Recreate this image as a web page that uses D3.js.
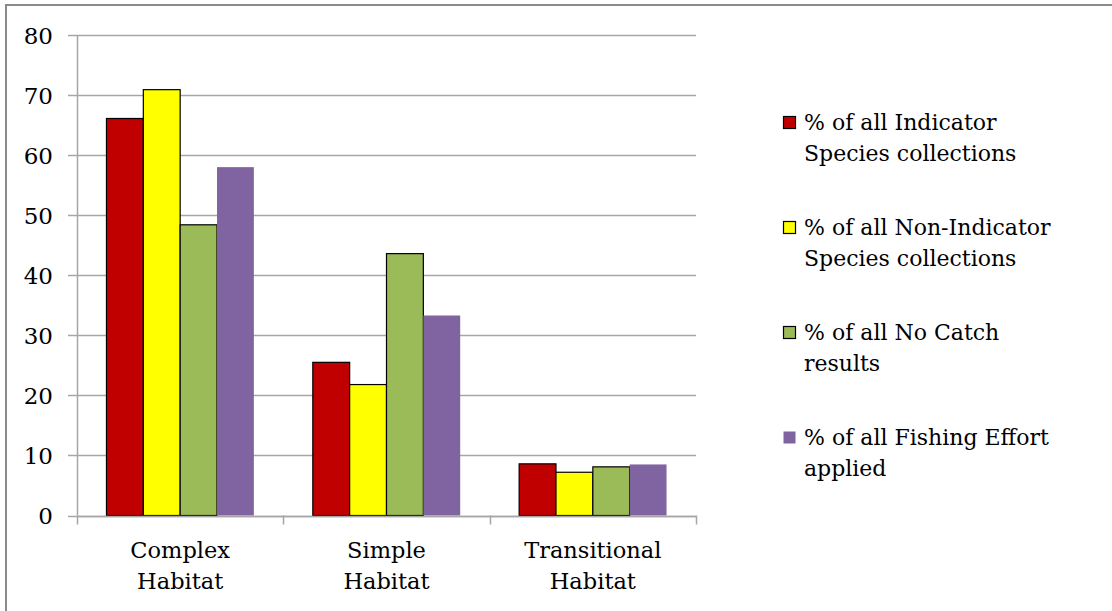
<!DOCTYPE html>
<html>
<head>
<meta charset="utf-8">
<script src="https://cdn.jsdelivr.net/npm/d3@7"></script>
<style>
  html, body { margin: 0; padding: 0; background: #fff; }
  svg { display: block; }
  text { font-family: "DejaVu Serif", "Liberation Serif", serif; fill: #000; }
</style>
</head>
<body>
<svg id="chart" width="1112" height="611"></svg>
<script>
// Habitat categories (two-line labels) and the four series
const categories = ["Complex Habitat", "Simple Habitat", "Transitional Habitat"];
const categoryLines = [["Complex", "Habitat"], ["Simple", "Habitat"], ["Transitional", "Habitat"]];
const seriesNames = [
  "% of all Indicator Species collections",
  "% of all Non-Indicator Species collections",
  "% of all No Catch results",
  "% of all Fishing Effort applied"
];
const legendLines = [
  ["% of all Indicator", "Species collections"],
  ["% of all Non-Indicator", "Species collections"],
  ["% of all No Catch", "results"],
  ["% of all Fishing Effort", "applied"]
];
const indicatorValues = [66.1, 25.5, 8.6];
const nonIndicatorValues = [70.9, 21.8, 7.2];
const noCatchValues = [48.4, 43.6, 8.1];
const effortValues = [58.0, 33.3, 8.5];
const seriesValues = [indicatorValues, nonIndicatorValues, noCatchValues, effortValues];
const seriesColors = ["#C00000", "#FFFF00", "#9BBB59", "#8064A2"];
const seriesStroke = ["#000", "#000", "#000", "none"];
const yTicks = [0, 10, 20, 30, 40, 50, 60, 70, 80];

const svg = d3.select("#chart");

// outer chart frame (top and left edges)
svg.append("path")
  .attr("d", "M6,611 V5 H1112")
  .attr("fill", "none")
  .attr("stroke", "#8a8a8a")
  .attr("stroke-width", 2);

const plot = { left: 77, right: 696, top: 35, bottom: 515.5 };

const y = d3.scaleLinear().domain([0, 80]).range([plot.bottom, plot.top]);
const x0 = d3.scaleBand().domain(categories).range([plot.left, plot.right]).paddingInner(0).paddingOuter(0);
const x1 = d3.scaleBand().domain(d3.range(seriesNames.length)).range([0, x0.bandwidth()])
  .paddingInner(0).paddingOuter(0.8);

// horizontal gridlines (extend left as tick marks)
svg.append("g")
  .selectAll("line")
  .data(yTicks)
  .join("line")
  .attr("x1", plot.left - 9)
  .attr("x2", plot.right)
  .attr("y1", d => Math.round(y(d)) + 0.5)
  .attr("y2", d => Math.round(y(d)) + 0.5)
  .attr("stroke", "#a6a6a6")
  .attr("stroke-width", 1.5);

// y axis labels
const yAxis = d3.axisLeft(y).tickValues(yTicks).tickSize(0).tickPadding(0);
const yg = svg.append("g").attr("transform", `translate(${plot.left - 24},0)`).call(yAxis);
yg.select(".domain").remove();
yg.selectAll("text")
  .attr("font-family", "DejaVu Serif")
  .attr("font-size", 23)
  .attr("fill", "#000")
  .attr("dy", "0.36em");

// bars
const groups = svg.append("g")
  .selectAll("g")
  .data(categories)
  .join("g")
  .attr("transform", d => `translate(${x0(d)},0)`);

groups.selectAll("rect")
  .data((c, ci) => seriesValues.map((vals, si) => ({ si, v: vals[ci] })))
  .join("rect")
  .attr("x", d => x1(d.si))
  .attr("width", x1.bandwidth())
  .attr("y", d => y(d.v))
  .attr("height", d => y(0) - y(d.v))
  .attr("fill", d => seriesColors[d.si])
  .attr("stroke", d => seriesStroke[d.si])
  .attr("stroke-width", 1.2);

// y axis line
svg.append("line")
  .attr("x1", plot.left + 0.5).attr("x2", plot.left + 0.5)
  .attr("y1", plot.top).attr("y2", plot.bottom)
  .attr("stroke", "#a6a6a6").attr("stroke-width", 1.5);

// x axis line and category boundary ticks
svg.append("line")
  .attr("x1", plot.left).attr("x2", plot.right)
  .attr("y1", Math.round(plot.bottom) + 0.5).attr("y2", Math.round(plot.bottom) + 0.5)
  .attr("stroke", "#a6a6a6").attr("stroke-width", 1.5);

const boundaries = categories.map(c => x0(c)).concat([plot.right]);
svg.append("g")
  .selectAll("line")
  .data(boundaries)
  .join("line")
  .attr("x1", d => Math.round(d) + 0.5).attr("x2", d => Math.round(d) + 0.5)
  .attr("y1", plot.bottom).attr("y2", plot.bottom + 9)
  .attr("stroke", "#a6a6a6").attr("stroke-width", 1.5);

// category labels
const catLabels = svg.append("g")
  .selectAll("text")
  .data(categories)
  .join("text")
  .attr("text-anchor", "middle")
  .attr("font-size", 22.5)
  .attr("x", d => x0(d) + x0.bandwidth() / 2)
  .attr("y", 558);
catLabels.selectAll("tspan")
  .data((d, i) => categoryLines[i])
  .join("tspan")
  .attr("x", function () { return this.parentNode.getAttribute("x"); })
  .attr("dy", (d, i) => i === 0 ? 0 : 31)
  .text(d => d);

// legend
const legend = svg.append("g")
  .selectAll("g")
  .data(seriesNames)
  .join("g")
  .attr("transform", (d, i) => `translate(783,${116 + i * 105})`);

legend.append("rect")
  .attr("x", 0.5).attr("y", 0.5)
  .attr("width", 12).attr("height", 12)
  .attr("fill", (d, i) => seriesColors[i])
  .attr("stroke", (d, i) => seriesStroke[i])
  .attr("stroke-width", 1.2);

const legendText = legend.append("text")
  .attr("x", 21)
  .attr("y", 14)
  .attr("font-size", 22);
legendText.selectAll("tspan")
  .data((d, i) => legendLines[i])
  .join("tspan")
  .attr("x", 21)
  .attr("dy", (d, i) => i === 0 ? 0 : 31)
  .text(d => d);
</script>
</body>
</html>
